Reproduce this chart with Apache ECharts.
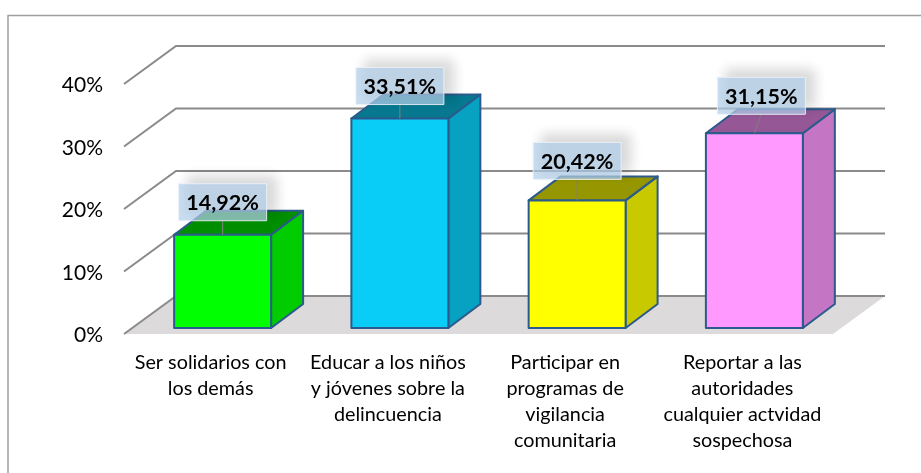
<!DOCTYPE html>
<html>
<head>
<meta charset="utf-8">
<style>
    html, body { margin: 0; padding: 0; background: #fff; }
    #main { width: 921px; height: 473px; }
</style>
<script src="https://cdn.jsdelivr.net/npm/echarts@6/dist/echarts.min.js"></script>
</head>
<body>
<div id="main"></div>
<script>
// 数据
var categories = [
    'Ser solidarios con\nlos demás',
    'Educar a los niños\ny jóvenes sobre la\ndelincuencia',
    'Participar en\nprogramas de\nvigilancia\ncomunitaria',
    'Reportar a las\nautoridades\ncualquier actvidad\nsospechosa'
];
var values = [14.92, 33.51, 20.42, 31.15];
var valueLabels = ['14,92%', '33,51%', '20,42%', '31,15%'];
var yTicks = [0, 10, 20, 30, 40];

// 颜色
var frontColors = ['#00ff00', '#09cdf6', '#ffff00', '#ff99ff'];
var sideColors = ['#00cc00', '#07a1c1', '#c9c900', '#c475c4'];
var topColors = ['#008f00', '#06788f', '#969600', '#955795'];
var edgeColor = '#2b5a8c';
var gridColor = '#8a8a8a';

// 标签框相对柱顶的位置
var labelShiftX = [0, 0, 0, 7];
var labelGap = [14, 14, 21, 19];

var depthX = 52, depthY = 38;    // 背面墙偏移
var barDepthX = 32, barDepthY = 24;
var barShiftX = 10, barShiftY = 6;

function poly(points, fill, stroke, width) {
    return {
        type: 'polygon',
        shape: { points: points },
        style: { fill: fill, stroke: stroke, lineWidth: width || 0, lineJoin: 'round' }
    };
}

// 背景墙和地面
function renderWall(params, api) {
    var p = api.coord([0, api.value(1)]);
    var band = api.size([1, 0])[0];
    var left = p[0] - band / 2;
    var right = left + band * 4;
    var y = p[1];
    var line = { stroke: gridColor, lineWidth: 2, fill: 'none' };
    var children = [];
    if (api.value(1) === 0) {
        children.push(poly([[left, y], [left + depthX, y - depthY], [right + depthX, y - depthY], [right, y]], '#dcdada'));
    }
    children.push({
        type: 'polyline',
        shape: { points: [[left, y], [left + depthX, y - depthY], [right + depthX, y - depthY]] },
        style: line
    });
    return { type: 'group', children: children };
}

// 三维柱子
function renderBar(params, api) {
    var i = params.dataIndex;
    var top = api.coord([i, api.value(1)]);
    var base = api.coord([i, 0]);
    var w = api.size([1, 0])[0] * 0.547;
    var l = top[0] + barShiftX - w / 2, r = l + w;
    var t = top[1] - barShiftY, b = base[1] - barShiftY;
    var dx = barDepthX, dy = barDepthY;
    return {
        type: 'group',
        children: [
            poly([[r, t], [r + dx, t - dy], [r + dx, b - dy], [r, b]], sideColors[i], edgeColor, 2),
            poly([[l, t], [l + dx, t - dy], [r + dx, t - dy], [r, t]], topColors[i], edgeColor, 2),
            poly([[l, t], [r, t], [r, b], [l, b]], frontColors[i], edgeColor, 2)
        ]
    };
}

// 数据标签
function renderLabel(params, api) {
    var i = params.dataIndex;
    var top = api.coord([i, api.value(1)]);
    var cx = top[0] + barShiftX;
    var t = top[1] - barShiftY;
    var boxW = 88, boxH = 37;
    var bottom = t - labelGap[i];
    var bx = cx + labelShiftX[i];
    return {
        type: 'group',
        children: [
            {
                type: 'line',
                shape: { x1: bx, y1: bottom, x2: cx, y2: t },
                style: { stroke: '#808080', lineWidth: 1 }
            },
            {
                type: 'rect',
                shape: { x: bx - boxW / 2, y: bottom - boxH, width: boxW, height: boxH },
                style: {
                    fill: 'rgba(180,208,235,0.72)',
                    stroke: 'rgba(235,242,250,0.9)',
                    lineWidth: 1,
                    shadowBlur: 12,
                    shadowColor: 'rgba(0,0,0,0.22)',
                    shadowOffsetX: 9,
                    shadowOffsetY: -7
                }
            },
            {
                type: 'text',
                style: {
                    x: bx,
                    y: bottom - boxH / 2 + 1,
                    text: valueLabels[i],
                    fill: '#000',
                    font: 'bold 21.5px Lato',
                    align: 'center',
                    verticalAlign: 'middle'
                }
            }
        ]
    };
}

var myChart = echarts.init(document.getElementById('main'));
var barData = values.map(function (v, i) {
    return [i, v];
});

myChart.setOption({
    animation: false,
    backgroundColor: '#fff',
    graphic: [{
        type: 'rect',
        silent: true,
        shape: { x: 8, y: 15.5, width: 950, height: 490 },
        style: { fill: 'none', stroke: '#a0a0a0', lineWidth: 1.5 }
    }],
    grid: { left: 124, top: 84, width: 709, height: 250 },
    xAxis: {
        type: 'category',
        data: categories,
        axisLine: { show: false },
        axisTick: { show: false },
        axisLabel: {
            interval: 0,
            margin: 16,
            color: '#000',
            fontFamily: 'Lato',
            fontSize: 19.8,
            lineHeight: 26,
            padding: [0, 4, 0, 0]
        }
    },
    yAxis: {
        type: 'value',
        min: 0,
        max: 40,
        interval: 10,
        axisLine: { show: false },
        axisTick: { show: false },
        splitLine: { show: false },
        axisLabel: {
            margin: 21,
            color: '#000',
            fontFamily: 'Lato',
            fontSize: 21,
            verticalAlign: 'top',
            lineHeight: 21,
            padding: [-9, 0, 0, 0],
            formatter: '{value}%'
        }
    },
    series: [
        {
            type: 'custom',
            z: 1,
            renderItem: renderWall,
            data: yTicks.map(function (v) { return [0, v]; })
        },
        {
            type: 'custom',
            z: 2,
            renderItem: renderBar,
            data: barData
        },
        {
            type: 'custom',
            z: 3,
            renderItem: renderLabel,
            data: barData
        }
    ]
});
</script>
</body>
</html>
